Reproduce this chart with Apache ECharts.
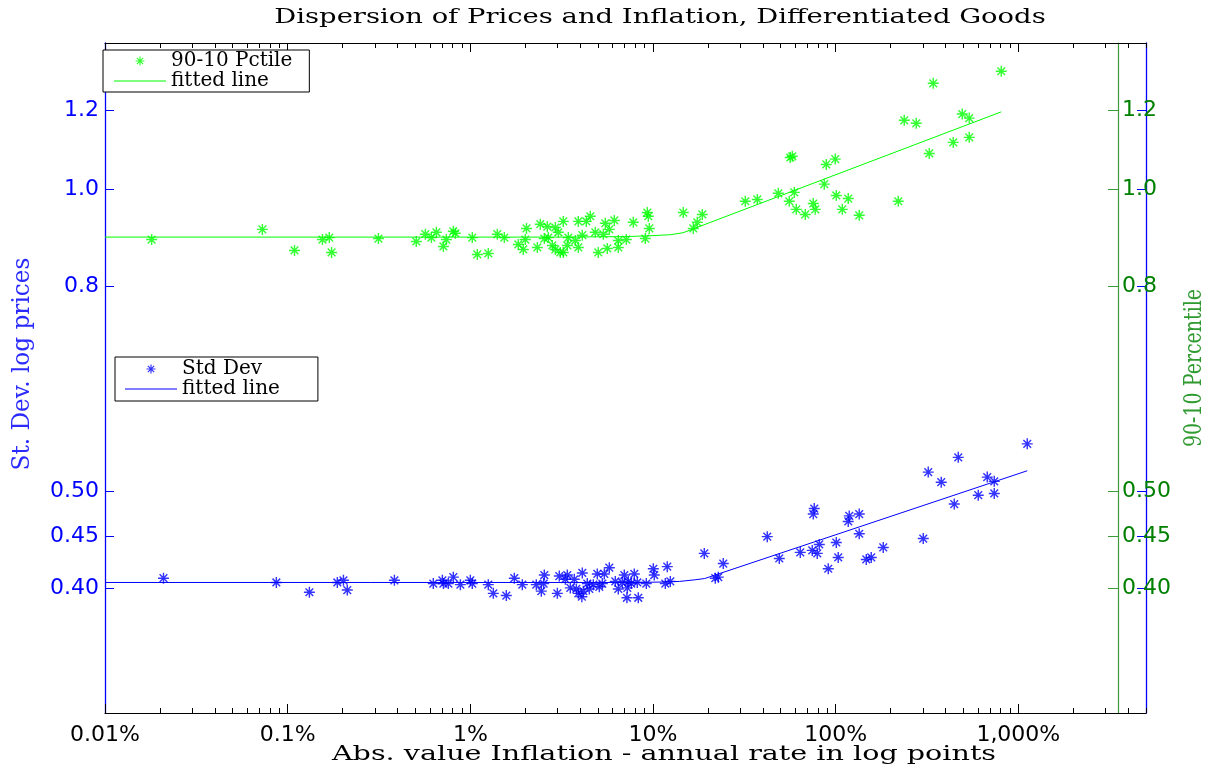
<!DOCTYPE html>
<html>
<head>
<meta charset="utf-8">
<title>Dispersion of Prices and Inflation, Differentiated Goods</title>
<script src="https://cdn.jsdelivr.net/npm/echarts@6/dist/echarts.min.js"></script>
<style>
  html, body { margin: 0; padding: 0; background: #fff; }
  #chart { width: 1214px; height: 772px; }
</style>
</head>
<body>
<div id="chart"></div>
<script>
// abs. inflation (percent, log axis) vs dispersion of log prices
const pctileInflation = [
  0.018, 0.0727, 0.109, 0.155, 0.169, 0.174, 0.314, 0.506, 0.567, 0.612,
  0.652, 0.739, 0.712, 0.807, 0.828, 1.025, 1.092, 1.254, 1.405, 1.535,
  2.03, 2.0, 1.831, 1.95, 2.416, 2.639, 2.92, 3.228, 2.327, 2.541,
  2.673, 3.032, 2.812, 2.92, 3.109, 3.228, 3.396, 3.439, 3.756, 3.901,
  4.314, 4.537, 4.102, 3.901, 4.833, 5.019, 5.346, 5.482, 5.766, 6.14,
  5.622, 6.457, 6.457, 7.143, 7.801, 9.307, 9.425, 9.543, 9.076, 14.65,
  18.62, 17.48, 16.62, 32.01, 37.24, 48.52, 55.72, 59.35, 60.85, 68.19,
  75.4, 77.32, 56.43, 57.87, 86.62, 88.84, 99.5, 100.8, 108.7, 117.2,
  134.6, 220.1, 237.4, 276.2, 325.3, 342.1, 440.3, 493.2, 538.6, 538.6, 806.3
]
const pctileSpread = [
  0.891, 0.912, 0.869, 0.891, 0.895, 0.865, 0.893, 0.887, 0.902, 0.895,
  0.906, 0.891, 0.877, 0.908, 0.904, 0.895, 0.861, 0.863, 0.902, 0.895,
  0.914, 0.891, 0.881, 0.871, 0.923, 0.918, 0.916, 0.929, 0.875, 0.893,
  0.895, 0.906, 0.879, 0.871, 0.865, 0.865, 0.879, 0.895, 0.889, 0.929,
  0.929, 0.940, 0.900, 0.875, 0.906, 0.865, 0.902, 0.925, 0.912, 0.931,
  0.873, 0.889, 0.875, 0.891, 0.927, 0.948, 0.940, 0.914, 0.893, 0.948,
  0.944, 0.927, 0.914, 0.973, 0.977, 0.991, 0.973, 0.993, 0.955, 0.944,
  0.968, 0.955, 1.076, 1.079, 1.012, 1.059, 1.072, 0.986, 0.955, 0.979,
  0.942, 0.973, 1.172, 1.164, 1.086, 1.276, 1.114, 1.189, 1.178, 1.127, 1.312
]
const sdInflation = [
  0.0209, 0.0867, 0.1315, 0.187, 0.202, 0.212, 0.384, 0.627, 0.703, 0.712,
  0.758, 0.807, 0.882, 1.0, 1.025, 1.254, 1.336, 1.574, 1.741, 1.926,
  2.297, 2.447, 2.541, 2.52, 2.995, 3.07, 3.311, 3.396, 3.527, 3.709,
  3.804, 3.901, 4.102, 4.154, 4.08, 4.369, 4.48, 4.712, 4.956, 5.083,
  5.279, 5.413, 5.766, 6.218, 6.457, 6.792, 6.965, 7.234, 7.326, 7.2,
  7.607, 7.9, 8.204, 8.308, 9.191, 10.04, 10.16, 11.68, 11.97, 12.44,
  19.09, 21.93, 22.78, 24.25, 42.23, 49.14, 64.01, 74.45, 79.3, 81.33,
  75.4, 76.36, 91.11, 100.8, 103.3, 117.2, 118.7, 134.6, 134.6, 147.1,
  156.6, 182.2, 301.7, 321.2, 378.4, 445.9, 469.0, 603.4, 675.8, 738.3,
  738.3, 1119
]
const sdSpread = [
  0.409, 0.405, 0.396, 0.405, 0.407, 0.398, 0.407, 0.404, 0.407, 0.404,
  0.404, 0.410, 0.403, 0.407, 0.404, 0.403, 0.395, 0.393, 0.409, 0.403,
  0.403, 0.397, 0.412, 0.404, 0.395, 0.411, 0.408, 0.412, 0.400, 0.408,
  0.399, 0.395, 0.414, 0.397, 0.392, 0.404, 0.399, 0.403, 0.413, 0.401,
  0.404, 0.413, 0.419, 0.406, 0.399, 0.405, 0.412, 0.400, 0.406, 0.391,
  0.404, 0.413, 0.405, 0.391, 0.404, 0.418, 0.412, 0.404, 0.420, 0.406,
  0.433, 0.409, 0.410, 0.423, 0.450, 0.428, 0.434, 0.436, 0.433, 0.442,
  0.474, 0.480, 0.418, 0.444, 0.429, 0.466, 0.472, 0.474, 0.453, 0.427,
  0.429, 0.439, 0.448, 0.522, 0.510, 0.485, 0.540, 0.495, 0.516, 0.511,
  0.497, 0.557
]
// fitted lines (flat, then linear in log-log)
const pctileFitX = [0.01, 3, 7, 10, 12.5, 14.6, 806]
const pctileFitY = [0.896, 0.896, 0.897, 0.899, 0.901, 0.905, 1.195]
const sdFitX = [0.01, 8, 12, 14, 17, 19.2, 1119]
const sdFitY = [0.405, 0.405, 0.4055, 0.406, 0.4075, 0.4087, 0.5236]

const xTickValues = [0.01, 0.1, 1, 10, 100, 1000]
const xTickLabels = ['0.01%', '0.1%', '1%', '10%', '100%', '1,000%']
const yTickValues = [0.4, 0.45, 0.5, 0.8, 1.0, 1.2]
const yTickLabels = ['0.40', '0.45', '0.50', '0.8', '1.0', '1.2']

// minor log ticks 2..9 in each decade
const xMinorTicks = []
xTickValues.forEach((d) => {
  for (let k = 2; k <= 9; k++) {
    if (d * k <= 5000) xMinorTicks.push(+(d * k).toPrecision(3))
  }
})

const BLUE = '#0000ff'
const GREEN = '#00ff00'
const DARK_GREEN = '#008000'
const ASTERISK = 'path://M0,43.5L100,43.5L100,56.5L0,56.5Z M43.5,0L56.5,0L56.5,100L43.5,100Z M19.6,10.4L89.6,80.4L80.4,89.6L10.4,19.6Z M80.4,10.4L89.6,19.6L19.6,89.6L10.4,80.4Z'
const LINE_ICON = 'path://M0,0L100,0L100,2L0,2Z'

const pickLabel = (values, labels) => (v) => {
  const i = values.findIndex(t => Math.abs(t - v) / t < 1e-6)
  return i >= 0 ? labels[i] : ''
}
const zip = (xs, ys) => xs.map((x, i) => [x, ys[i]])

const xBase = { type: 'log', logBase: 10, min: 0.01, max: 5000, splitLine: { show: false } }
const yBase = { type: 'log', logBase: 10, min: 0.3, max: 1.4, splitLine: { show: false } }
const majorX = (position) => ({
  ...xBase,
  position,
  axisLine: { lineStyle: { color: '#000', width: 1.2 } },
  axisTick: { inside: true, length: 9, customValues: xTickValues, lineStyle: { color: '#000' } },
  axisLabel: position === 'bottom'
    ? { customValues: xTickValues, formatter: pickLabel(xTickValues, xTickLabels), color: '#000', fontFamily: 'DejaVu Sans', fontSize: 22, margin: 11 }
    : { show: false },
})
const minorX = (position) => ({
  ...xBase,
  position,
  axisLine: { show: false },
  axisTick: { inside: true, length: 5, customValues: xMinorTicks, lineStyle: { color: '#000' } },
  axisLabel: { show: false },
})

const legendText = { fontFamily: 'DejaVu Serif', fontSize: 20, color: '#000', lineHeight: 18 }
const legendBase = {
  orient: 'vertical',
  itemWidth: 52,
  itemHeight: 9,
  itemGap: 0,
  backgroundColor: '#fff',
  borderColor: '#000',
  borderWidth: 1,
  borderRadius: 0,
  selectedMode: false,
  textStyle: legendText,
  formatter: name => (name.indexOf('fitted line') === 0 ? 'fitted line' : name),
}

const chart = echarts.init(document.getElementById('chart'))
const option = {
  animation: false,
  backgroundColor: '#fff',
  grid: { left: 105, top: 43, width: 1041, height: 670, containLabel: false, outerBoundsMode: 'none' },
  xAxis: [majorX('bottom'), minorX('bottom'), majorX('top'), minorX('top')],
  yAxis: [
    {
      ...yBase,
      position: 'left',
      axisLine: { lineStyle: { color: BLUE, width: 1.3 } },
      axisTick: { inside: true, length: 9, customValues: yTickValues, lineStyle: { color: BLUE } },
      axisLabel: { customValues: yTickValues, formatter: pickLabel(yTickValues, yTickLabels), color: BLUE, fontFamily: 'DejaVu Sans', fontSize: 22, margin: 6 },
    },
    {
      ...yBase,
      position: 'right',
      axisLine: { lineStyle: { color: BLUE, width: 1.3 } },
      axisTick: { inside: true, length: 9, customValues: yTickValues, lineStyle: { color: BLUE } },
      axisLabel: { show: false },
    },
    {
      ...yBase,
      position: 'right',
      offset: -28,
      axisLine: { lineStyle: { color: '#3a9a3a', width: 1.2 } },
      axisTick: { inside: true, length: 10, customValues: yTickValues, lineStyle: { color: '#3a9a3a' } },
      axisLabel: { customValues: yTickValues, formatter: pickLabel(yTickValues, yTickLabels), color: DARK_GREEN, fontFamily: 'DejaVu Sans', fontSize: 22, margin: 4 },
    },
  ],
  legend: [
    {
      ...legendBase,
      data: ['90-10 Pctile', { name: 'fitted line (90-10)', icon: LINE_ICON }],
      left: 103, top: 50, padding: [1, 17, 1, 11],
    },
    {
      ...legendBase,
      data: ['Std Dev', { name: 'fitted line (sd)', icon: LINE_ICON }],
      left: 115, top: 357, padding: [2, 38, 2, 10],
    },
  ],
  graphic: [
    {
      type: 'text', x: 660, y: 18, scaleX: 1.37,
      style: { text: 'Dispersion of Prices and Inflation, Differentiated Goods', fontFamily: 'DejaVu Serif', fontSize: 20, fill: '#000', align: 'center', verticalAlign: 'middle' },
    },
    {
      type: 'text', x: 664, y: 755, scaleX: 1.43,
      style: { text: 'Abs. value Inflation - annual rate in log points', fontFamily: 'DejaVu Serif', fontSize: 20, fill: '#000', align: 'center', verticalAlign: 'middle' },
    },
    {
      type: 'text', x: 22, y: 364, rotation: Math.PI / 2, scaleX: 1.16, scaleY: 1.25,
      style: { text: 'St. Dev. log prices', fontFamily: 'DejaVu Serif', fontSize: 20, fill: '#2a2aff', align: 'center', verticalAlign: 'middle' },
    },
    {
      type: 'text', x: 1195, y: 368, rotation: Math.PI / 2, scaleY: 1.25,
      style: { text: '90-10 Percentile', fontFamily: 'DejaVu Serif', fontSize: 19, fill: '#2f9a2f', align: 'center', verticalAlign: 'middle' },
    },
  ],
  series: [
    {
      name: 'fitted line (90-10)',
      type: 'line',
      symbol: 'none',
      lineStyle: { color: GREEN, width: 1 },
      itemStyle: { color: GREEN },
      data: zip(pctileFitX, pctileFitY),
    },
    {
      name: '90-10 Pctile',
      type: 'scatter',
      symbol: ASTERISK,
      symbolSize: 11,
      symbolKeepAspect: true,
      itemStyle: { color: GREEN },
      data: zip(pctileInflation, pctileSpread),
    },
    {
      name: 'fitted line (sd)',
      type: 'line',
      symbol: 'none',
      lineStyle: { color: BLUE, width: 1 },
      itemStyle: { color: BLUE },
      data: zip(sdFitX, sdFitY),
    },
    {
      name: 'Std Dev',
      type: 'scatter',
      symbol: ASTERISK,
      symbolSize: 11,
      symbolKeepAspect: true,
      itemStyle: { color: BLUE },
      data: zip(sdInflation, sdSpread),
    },
  ],
}
chart.setOption(option)
window.addEventListener('resize', () => {
  chart.resize()
})
</script>
</body>
</html>
